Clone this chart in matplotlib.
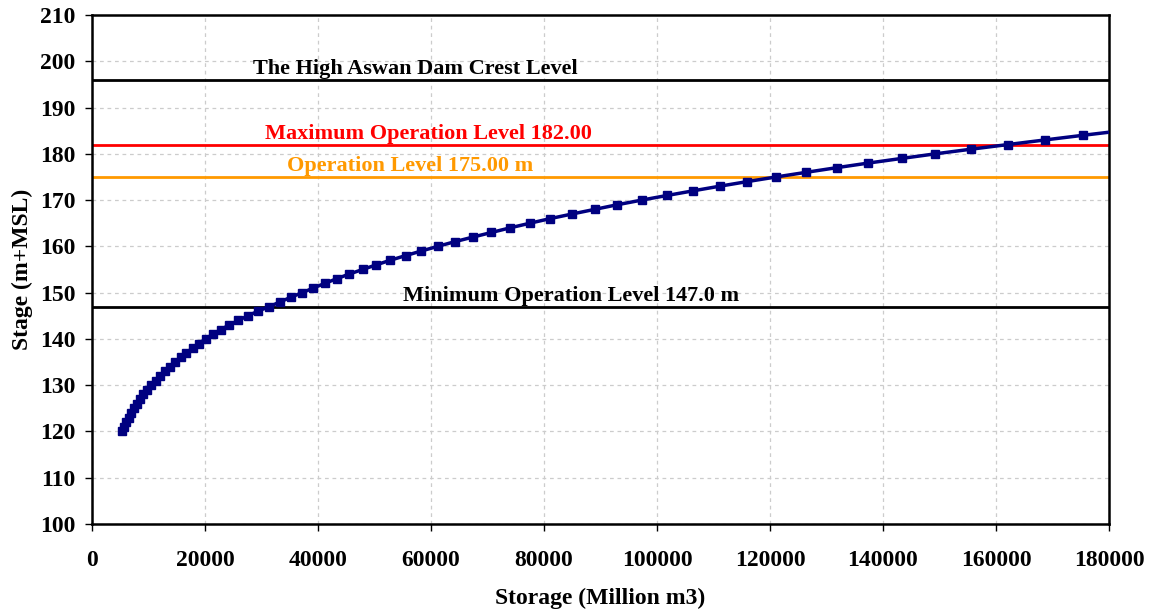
import matplotlib.pyplot as plt

# elevation-storage table for the reservoir (stage in m, storage in million m3)
stage = list(range(120, 186))
storage = [5300, 5700, 6100, 6500, 6900, 7400, 7900, 8500, 9100, 9800,
           10500, 11300, 12100, 12900, 13800, 14700, 15700, 16700, 17800, 18900,
           20100, 21400, 22800, 24300, 25900, 27600, 29400, 31400, 33300, 35200,
           37200, 39200, 41200, 43300, 45500, 47900, 50300, 52800, 55500, 58300,
           61200, 64200, 67400, 70700, 74000, 77500, 81100, 85000, 89000, 93000,
           97300, 101800, 106400, 111100, 116000, 121100, 126400, 131800, 137400, 143300,
           149300, 155600, 162100, 168700, 175400, 182300]

crest_level = 196.0
max_level = 182.0
op_level = 175.0
min_level = 147.0

plt.rcParams['font.family'] = ['Liberation Serif', 'DejaVu Serif']
plt.rcParams['font.weight'] = 'bold'

fig = plt.figure(figsize=(11.5, 6.12), dpi=100)
ax = fig.add_axes([0.080, 0.1438, 0.8843, 0.8317])

ax.grid(True, color='#cccccc', linestyle=(0, (3, 3)), linewidth=0.9)
ax.set_axisbelow(True)

ax.axhline(crest_level, color='black', lw=2, zorder=2)
ax.axhline(max_level, color='#ff0000', lw=2, zorder=2)
ax.axhline(op_level, color='#ff9900', lw=2, zorder=2)
ax.axhline(min_level, color='black', lw=2, zorder=2)

ax.plot(storage, stage, color='#000080', lw=2.5, marker='s', markersize=5.5,
        zorder=3, clip_on=True)

# level labels sit just above their lines
labels = [
    (57300, crest_level, 'The High Aswan Dam Crest Level', 'black'),
    (59500, max_level, 'Maximum Operation Level 182.00', '#ff0000'),
    (56300, op_level, 'Operation Level 175.00 m', '#ff9900'),
    (84800, min_level, 'Minimum Operation Level 147.0 m', 'black'),
]
for x, y, s, c in labels:
    ax.annotate(s, (x, y), xytext=(0, 4), textcoords='offset points',
                ha='center', va='baseline', fontsize=16, fontweight='bold',
                color=c)

ax.set_xlim(0, 180000)
ax.set_ylim(100, 210)
ax.set_xticks(range(0, 180001, 20000))
ax.set_yticks(range(100, 211, 10))
ax.tick_params(direction='out', length=5, width=1, labelsize=17)
ax.tick_params(axis='x', pad=14)
ax.tick_params(axis='y', pad=7)
for lab in ax.get_xticklabels() + ax.get_yticklabels():
    lab.set_fontweight('bold')
for sp in ax.spines.values():
    sp.set_linewidth(1.8)

ax.set_xlabel('Storage (Million m3)', fontsize=17, fontweight='bold', labelpad=12)
ax.set_ylabel('Stage (m+MSL)', fontsize=17, fontweight='bold', labelpad=5)

fig.savefig('out.png', dpi=100)
